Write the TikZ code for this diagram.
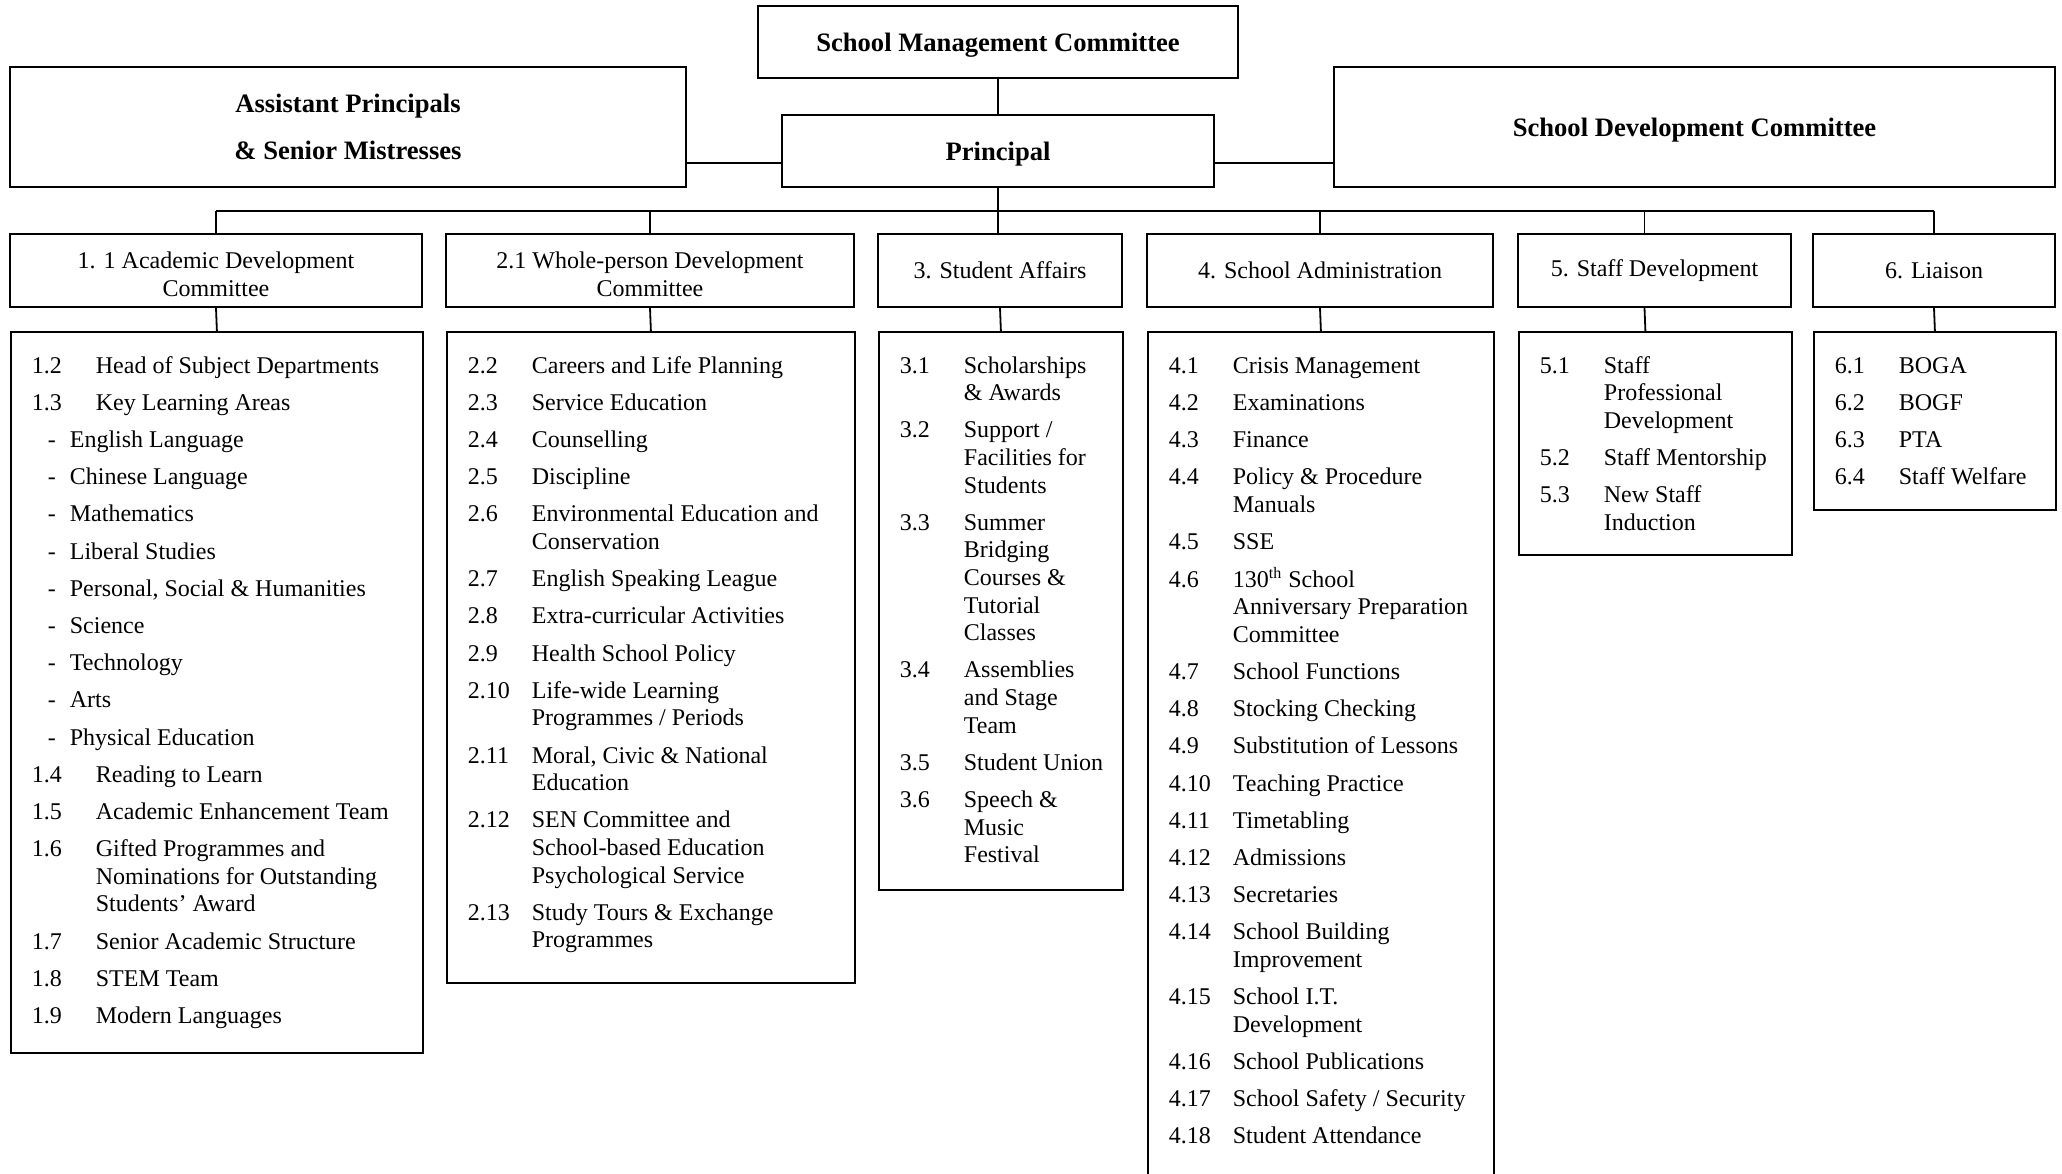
\documentclass[tikz,border=0pt]{standalone}
\usepackage{fontspec}
\setmainfont{Liberation Serif}
\usepackage{array}
\usepackage{tikz}

\newcolumntype{L}[1]{>{\raggedright\arraybackslash}p{#1}}
% llista numerada dins de cada caixa
\newcommand{\llista}[2]{\fontsize{12pt}{13.8pt}\selectfont
  \begin{tabular}[t]{@{}L{32pt}@{}L{#1}@{}}#2\end{tabular}}
\newcommand{\seg}{\\\noalign{\vskip 4.8pt}}
\newcommand{\guio}[1]{\multicolumn{2}{@{}l@{}}{\hspace*{8pt}\makebox[11pt][l]{-}#1}\seg}

\begin{document}
\begin{tikzpicture}[x=0.5pt, y=-0.5pt, line width=0.9pt,
    caixa/.style={draw, inner sep=0pt},
    capbox/.style={caixa, font=\bfseries\fontsize{13.3pt}{23.5pt}\selectfont, align=center, text depth=0pt},
    areabox/.style={caixa, font=\fontsize{12pt}{13.8pt}\selectfont, align=center, minimum height=36.5pt},
    llistabox/.style={caixa, anchor=north west},
    llistatext/.style={anchor=base west, inner sep=0pt}]
        \useasboundingbox (0,0) rectangle (2062,1173);
        \clip (0,0) rectangle (2062,1173);

        % Direccio
        \node[capbox, minimum width=240pt, minimum height=36pt] (smc) at (998,42) {School Management Committee};
        \node[capbox, minimum width=216pt, minimum height=36pt] (prin) at (998,151) {Principal};
        \node[capbox, minimum width=338pt, minimum height=60pt] (asst) at (348,127) {Assistant Principals\\\& Senior Mistresses};
        \node[capbox, minimum width=360.5pt, minimum height=60pt] (sdc) at (1694.5,127) {School Development Committee};

        % Arees
        \node[areabox, minimum width=206pt] (h1) at (216,270.5) {\rule{0pt}{12pt}1. 1 Academic Development\\Committee};
        \node[areabox, minimum width=204pt] (h2) at (650,270.5) {\rule{0pt}{12pt}2.1 Whole-person Development\\Committee};
        \node[areabox, minimum width=122pt] (h3) at (1000,270.5) {3. Student Affairs};
        \node[areabox, minimum width=173pt] (h4) at (1320,270.5) {4. School Administration};
        \node[areabox, minimum width=136.5pt] (h5) at (1654.5,270.5) {5. Staff Development};
        \node[areabox, minimum width=121pt] (h6) at (1934,270.5) {6. Liaison};

        % Caixes de llista
        \node[llistabox, minimum width=206pt, minimum height=360.5pt] (l1) at (10,331) {};
        \node[llistabox, minimum width=204pt, minimum height=325.5pt] (l2) at (446,331) {};
        \node[llistabox, minimum width=122pt, minimum height=279pt] (l3) at (878,331) {};
        \node[llistabox, minimum width=173pt, minimum height=460pt] (l4) at (1147,331) {};
        \node[llistabox, minimum width=136.5pt, minimum height=111.5pt] (l5) at (1518,331) {};
        \node[llistabox, minimum width=121pt, minimum height=89pt] (l6) at (1813,331) {};

        % Linies
        \coordinate (bus) at (0,211);
        \draw (smc.south) -- (prin.north);
        \draw ([yshift=-6pt]prin.west) -- ([yshift=-6pt]prin.west -| asst.east);
        \draw ([yshift=-6pt]prin.east) -- ([yshift=-6pt]prin.east -| sdc.west);
        \draw (prin.south) -- (prin.south |- h3.north);
        \draw (h1.north |- bus) -- (h6.north |- bus);
        \foreach \c in {1,2,4,6} {
            \draw (h\c.north) -- (h\c.north |- bus);
            \draw (h\c.south) -- (l\c.north);
        }
        \draw (h3.south) -- (l3.north);
        \draw ([xshift=-5pt]h5.north) -- ([xshift=-5pt]h5.north |- bus);
        \draw ([xshift=-5pt]h5.south) -- ([xshift=-5pt]l5.north);

        % Textos
        \node[llistatext] (t1) at ([shift={(10.5pt,-21pt)}]l1.north west) {\llista{158pt}{
            1.2 & Head of Subject Departments \seg
            1.3 & Key Learning Areas \seg
            \guio{English Language}
            \guio{Chinese Language}
            \guio{Mathematics}
            \guio{Liberal Studies}
            \guio{Personal, Social \& Humanities}
            \guio{Science}
            \guio{Technology}
            \guio{Arts}
            \guio{Physical Education}
            1.4 & Reading to Learn \seg
            1.5 & Academic Enhancement Team \seg
            1.6 & Gifted Programmes and\newline Nominations for Outstanding\newline Students' Award \seg
            1.7 & Senior Academic Structure \seg
            1.8 & STEM Team \seg
            1.9 & Modern Languages}};
        \node[llistatext] (t2) at ([shift={(10.5pt,-21pt)}]l2.north west) {\llista{156pt}{
            2.2 & Careers and Life Planning \seg
            2.3 & Service Education \seg
            2.4 & Counselling \seg
            2.5 & Discipline \seg
            2.6 & Environmental Education and\newline Conservation \seg
            2.7 & English Speaking League \seg
            2.8 & Extra-curricular Activities \seg
            2.9 & Health School Policy \seg
            2.10 & Life-wide Learning\newline Programmes / Periods \seg
            2.11 & Moral, Civic \& National\newline Education \seg
            2.12 & SEN Committee and\newline School-based Education\newline Psychological Service \seg
            2.13 & Study Tours \& Exchange\newline Programmes}};
        \node[llistatext] (t3) at ([shift={(10.5pt,-21pt)}]l3.north west) {\llista{78pt}{
            3.1 & Scholarships\newline \& Awards \seg
            3.2 & Support /\newline Facilities for\newline Students \seg
            3.3 & Summer\newline Bridging\newline Courses \&\newline Tutorial\newline Classes \seg
            3.4 & Assemblies\newline and Stage\newline Team \seg
            3.5 & Student Union \seg
            3.6 & Speech \&\newline Music\newline Festival}};
        \node[llistatext] (t4) at ([shift={(10.5pt,-21pt)}]l4.north west) {\llista{126pt}{
            4.1 & Crisis Management \seg
            4.2 & Examinations \seg
            4.3 & Finance \seg
            4.4 & Policy \& Procedure\newline Manuals \seg
            4.5 & SSE \seg
            4.6 & 130\textsuperscript{th} School\newline Anniversary Preparation\newline Committee \seg
            4.7 & School Functions \seg
            4.8 & Stocking Checking \seg
            4.9 & Substitution of Lessons \seg
            4.10 & Teaching Practice \seg
            4.11 & Timetabling \seg
            4.12 & Admissions \seg
            4.13 & Secretaries \seg
            4.14 & School Building\newline Improvement \seg
            4.15 & School I.T.\newline Development \seg
            4.16 & School Publications \seg
            4.17 & School Safety / Security \seg
            4.18 & Student Attendance}};
        \node[llistatext] (t5) at ([shift={(10.5pt,-21pt)}]l5.north west) {\llista{90pt}{
            5.1 & Staff\newline Professional\newline Development \seg
            5.2 & Staff Mentorship \seg
            5.3 & New Staff\newline Induction}};
        \node[llistatext] (t6) at ([shift={(10.5pt,-21pt)}]l6.north west) {\llista{74pt}{
            6.1 & BOGA \seg
            6.2 & BOGF \seg
            6.3 & PTA \seg
            6.4 & Staff Welfare}};
    \end{tikzpicture}
\end{document}
